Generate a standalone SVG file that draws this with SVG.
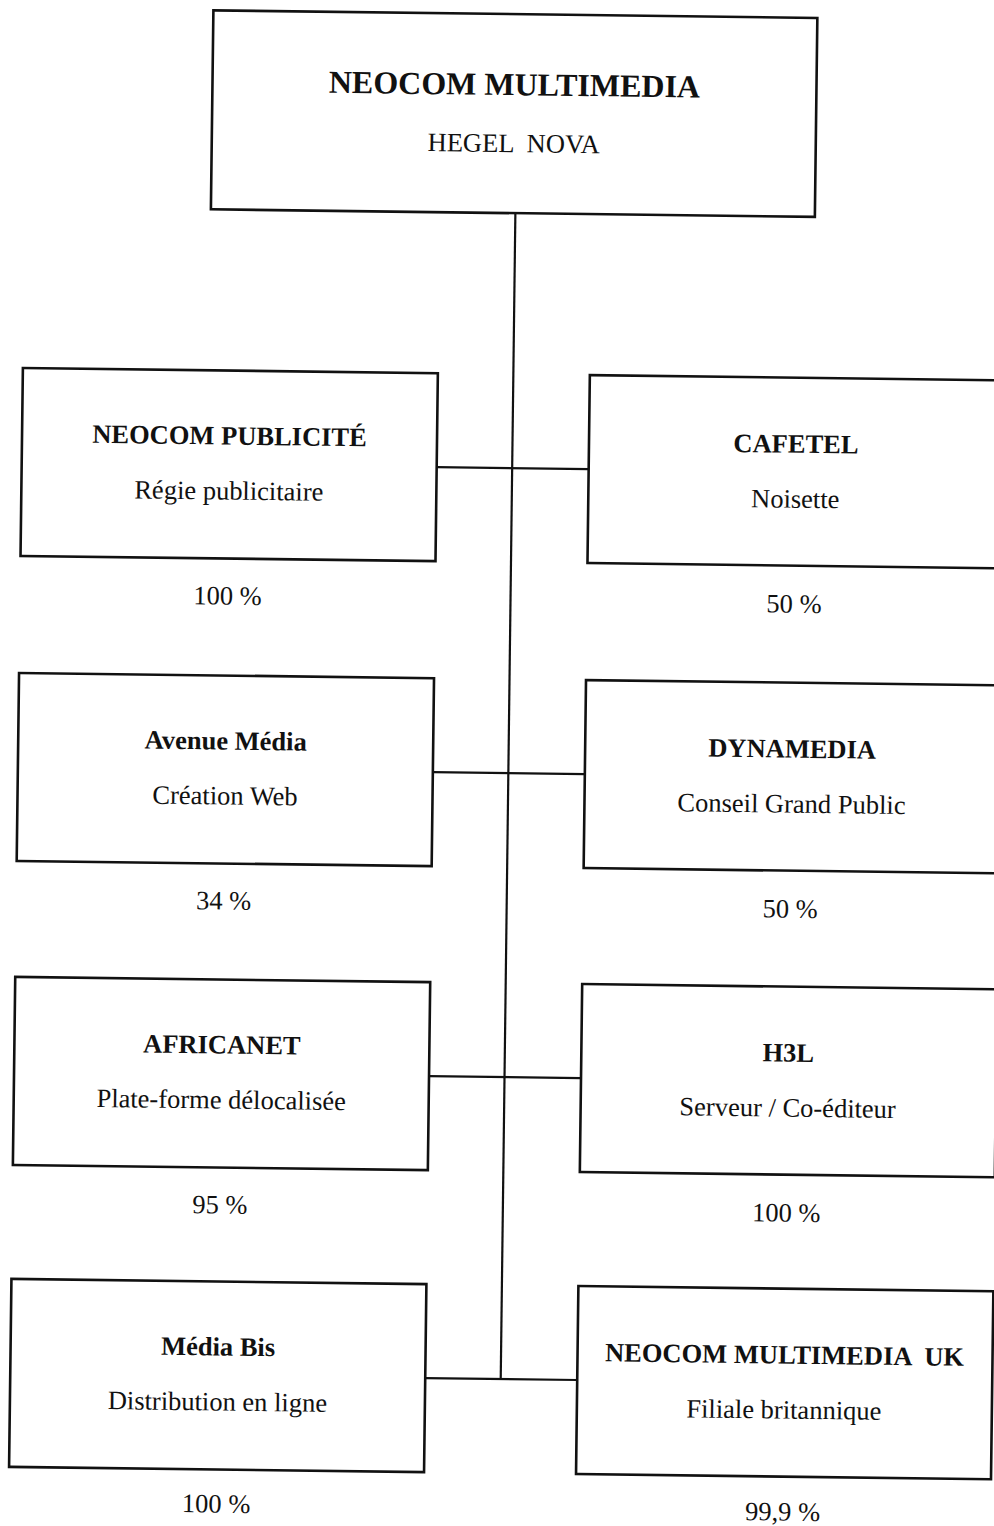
<svg xmlns="http://www.w3.org/2000/svg" width="994" height="1526" viewBox="0 0 994 1526">
<style>
.box{fill:#fff;stroke:#111;stroke-width:2.6}
.ln{stroke:#111;stroke-width:2.2;fill:none}
text{font-family:"Liberation Serif","Times New Roman",serif;fill:#111;text-anchor:middle}
.h{font-weight:bold;font-size:26.5px}
.s{font-size:26.5px}
.t{font-weight:bold;font-size:32px}
</style>
<rect x="0" y="0" width="994" height="1526" fill="#fff"/>
<g transform="rotate(0.72 500 760)">
<g id="connectors">
<line class="ln" x1="508.5" y1="213" x2="508.5" y2="1379"/>
<line class="ln" x1="433" y1="468" x2="585" y2="468"/>
<line class="ln" x1="433" y1="773" x2="585" y2="773"/>
<line class="ln" x1="433" y1="1077" x2="585" y2="1077"/>
<line class="ln" x1="433" y1="1379" x2="585" y2="1379"/>
</g>
<g id="neocom-multimedia">
<rect class="box" x="204" y="14" width="604" height="199"/>
<text class="t" x="506" y="95">NEOCOM MULTIMEDIA</text>
<text class="s" x="506" y="152" xml:space="preserve">HEGEL  NOVA</text>
</g>
<g id="neocom-publicite">
<rect class="box" x="18" y="374" width="415" height="188"/>
<text class="h" x="225.5" y="448">NEOCOM PUBLICITÉ</text>
<text class="s" x="225.5" y="503">Régie publicitaire</text>
<text class="s" x="225.5" y="608">100 %</text>
</g>
<g id="cafetel">
<rect class="box" x="585" y="374" width="415" height="188"/>
<text class="h" x="792" y="449">CAFETEL</text>
<text class="s" x="792" y="504">Noisette</text>
<text class="s" x="792" y="609">50 %</text>
</g>
<g id="avenue-media">
<rect class="box" x="18" y="679" width="415" height="188"/>
<text class="h" x="225.5" y="753">Avenue Média</text>
<text class="s" x="225.5" y="808">Création Web</text>
<text class="s" x="225.5" y="913">34 %</text>
</g>
<g id="dynamedia">
<rect class="box" x="585" y="679" width="415" height="188"/>
<text class="h" x="792" y="754">DYNAMEDIA</text>
<text class="s" x="792" y="809">Conseil Grand Public</text>
<text class="s" x="792" y="914">50 %</text>
</g>
<g id="africanet">
<rect class="box" x="18" y="983" width="415" height="188"/>
<text class="h" x="225.5" y="1057">AFRICANET</text>
<text class="s" x="225.5" y="1112">Plate-forme délocalisée</text>
<text class="s" x="225.5" y="1217">95 %</text>
</g>
<g id="h3l">
<rect class="box" x="585" y="983" width="415" height="188"/>
<text class="h" x="792" y="1058">H3L</text>
<text class="s" x="792" y="1113">Serveur / Co-éditeur</text>
<text class="s" x="792" y="1218">100 %</text>
</g>
<g id="media-bis">
<rect class="box" x="18" y="1285" width="415" height="188"/>
<text class="h" x="225.5" y="1359">Média Bis</text>
<text class="s" x="225.5" y="1414">Distribution en ligne</text>
<text class="s" x="225.5" y="1516">100 %</text>
</g>
<g id="neocom-multimedia-uk">
<rect class="box" x="585" y="1285" width="415" height="188"/>
<text class="h" x="792" y="1360" xml:space="preserve">NEOCOM MULTIMEDIA  UK</text>
<text class="s" x="792" y="1415">Filiale britannique</text>
<text class="s" x="792" y="1517">99,9 %</text>
</g>
</g>
</svg>
